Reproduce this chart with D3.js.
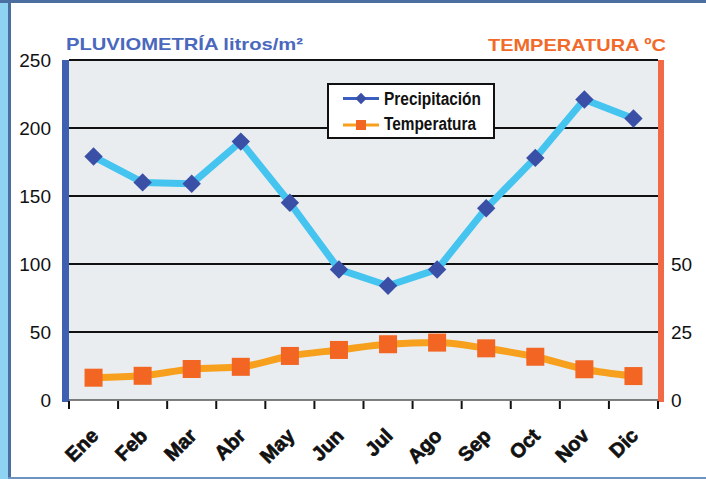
<!DOCTYPE html>
<html><head><meta charset="utf-8">
<script src="https://cdn.jsdelivr.net/npm/d3@7"></script>
<style>
html,body{margin:0;padding:0;background:#fff;}
svg{display:block;font-family:"Liberation Sans",Arial,sans-serif;}
</style></head>
<body>
<svg id="chart" width="706" height="479"></svg>
<script>
const months = ["Ene","Feb","Mar","Abr","May","Jun","Jul","Ago","Sep","Oct","Nov","Dic"];
const precipitation = [179,160,159,190,145,96,84,96,141,178,221,207];
const temperature = [8.2,8.9,11.4,12.2,16.2,18.4,20.5,21.1,19.0,15.9,11.3,8.8];
const leftTicks = [0,50,100,150,200,250];
const rightTicks = [0,25,50];

const svg = d3.select("#chart");
const W = 706, H = 479;
const m = {left:69, right:48, top:60, bottom:79};
const x0 = m.left, x1 = W - m.right, y0 = H - m.bottom, y1 = m.top;

// frame
svg.append("rect").attr("x",0).attr("y",0).attr("width",W).attr("height",H).attr("fill","#fff");
svg.append("rect").attr("x",0).attr("y",0).attr("width",9).attr("height",H).attr("fill","#8fd3f2");
svg.append("rect").attr("x",8).attr("y",0).attr("width",3).attr("height",H).attr("fill","#4a6fa0");
svg.append("rect").attr("x",0).attr("y",0).attr("width",W).attr("height",3).attr("fill","#4a6fa0");
svg.append("rect").attr("x",8).attr("y",H-2).attr("width",W).attr("height",2).attr("fill","#6b93c4");

const x = d3.scaleBand().domain(months).range([x0,x1]).padding(0);
const y = d3.scaleLinear().domain([0,250]).range([y0,y1]);
const yr = d3.scaleLinear().domain([0,125]).range([y0,y1]);

// plot bg
svg.append("rect").attr("x",x0).attr("y",y1).attr("width",x1-x0).attr("height",y0-y1).attr("fill","#e9edf0");

// gridlines
svg.append("g").selectAll("line").data(leftTicks.filter(d=>d>0)).join("line")
  .attr("x1",x0).attr("x2",x1).attr("y1",d=>y(d)).attr("y2",d=>y(d))
  .attr("stroke","#111").attr("stroke-width",2);
svg.append("line").attr("x1",x0).attr("x2",x1).attr("y1",y0).attr("y2",y0).attr("stroke","#555").attr("stroke-width",1.5);

// side bars
svg.append("rect").attr("x",x0-7).attr("y",y1).attr("width",7).attr("height",y0-y1+2).attr("fill","#3f5fb0");
svg.append("rect").attr("x",x1).attr("y",y1).attr("width",6).attr("height",y0-y1+2).attr("fill","#f26a45");

// x axis ticks
const xAxis = d3.axisBottom(x).tickSize(0).tickPadding(0);
const gx = svg.append("g").attr("transform",`translate(0,${y0})`).call(xAxis);
gx.select(".domain").remove();
gx.selectAll("text").remove();
const bounds = months.map(d=>x(d)).concat([x1]);
svg.append("g").selectAll("line").data(bounds).join("line")
  .attr("x1",d=>d).attr("x2",d=>d).attr("y1",y0+1).attr("y2",y0+9)
  .attr("stroke","#111").attr("stroke-width",2);
svg.append("g").selectAll("text").data(months).join("text")
  .attr("transform",d=>`translate(${x(d)+x.bandwidth()/2+6},${y0+37}) rotate(-45)`)
  .attr("text-anchor","end")
  .attr("font-size",20).attr("font-weight","bold").attr("fill","#111")
  .attr("stroke","#111").attr("stroke-width",0.7)
  .text(d=>d);

// left axis labels
const yAxis = d3.axisLeft(y).tickValues(leftTicks).tickSize(0).tickPadding(11);
const gy = svg.append("g").attr("transform",`translate(${x0-7},0)`).call(yAxis);
gy.select(".domain").remove();
gy.selectAll("text").attr("font-size",19).attr("fill","#111").attr("font-family","Liberation Sans, Arial, sans-serif");

// right axis labels
const yrAxis = d3.axisRight(yr).tickValues(rightTicks).tickSize(0).tickPadding(13);
const gyr = svg.append("g").attr("transform",`translate(${x1},0)`).call(yrAxis);
gyr.select(".domain").remove();
gyr.selectAll("text").attr("font-size",19).attr("fill","#111").attr("font-family","Liberation Sans, Arial, sans-serif");

// titles
svg.append("text").attr("x",66).attr("y",50).attr("font-size",17).attr("font-weight","bold")
  .attr("textLength",237).attr("lengthAdjust","spacingAndGlyphs")
  .attr("fill","#4a68bd").text("PLUVIOMETRÍA litros/m²");
svg.append("text").attr("x",488).attr("y",50.5).attr("font-size",17).attr("font-weight","bold")
  .attr("textLength",178).attr("lengthAdjust","spacingAndGlyphs")
  .attr("fill","#f26a2a").text("TEMPERATURA ºC");

const cx = d => x(d)+x.bandwidth()/2;

// temperature
svg.append("path").datum(temperature)
  .attr("d", d3.line().x((d,i)=>cx(months[i])).y(d=>yr(d)).curve(d3.curveMonotoneX))
  .attr("fill","none").attr("stroke","#f7a01e").attr("stroke-width",7);
svg.append("g").selectAll("rect").data(temperature).join("rect")
  .attr("x",(d,i)=>cx(months[i])-9).attr("y",d=>yr(d)-9).attr("width",18).attr("height",18)
  .attr("fill","#f26522");

// precipitation
svg.append("path").datum(precipitation)
  .attr("d", d3.line().x((d,i)=>cx(months[i])).y(d=>y(d)))
  .attr("fill","none").attr("stroke","#45c4f0").attr("stroke-width",7).attr("stroke-linejoin","round");
svg.append("g").selectAll("rect").data(precipitation).join("rect")
  .attr("x",-6.5).attr("y",-6.5).attr("width",13).attr("height",13)
  .attr("transform",(d,i)=>`translate(${cx(months[i])},${y(d)}) rotate(45)`)
  .attr("fill","#3a4fa6");

// legend
const lg = svg.append("g").attr("transform","translate(328,84)");
lg.append("rect").attr("width",166).attr("height",54).attr("fill","#fff").attr("stroke","#111").attr("stroke-width",2);
lg.append("line").attr("x1",15).attr("x2",51).attr("y1",14.5).attr("y2",14.5).attr("stroke","#3a5fc0").attr("stroke-width",3);
lg.append("rect").attr("x",-4).attr("y",-4).attr("width",8).attr("height",8).attr("transform","translate(33,14.5) rotate(45)").attr("fill","#3a4fa6");
lg.append("text").attr("x",56).attr("y",21).attr("font-size",18).attr("font-weight","bold").attr("fill","#111")
  .attr("textLength",97).attr("lengthAdjust","spacingAndGlyphs").text("Precipitación");
lg.append("line").attr("x1",15).attr("x2",51).attr("y1",41).attr("y2",41).attr("stroke","#f7a01e").attr("stroke-width",3);
lg.append("rect").attr("x",28).attr("y",36).attr("width",10).attr("height",10).attr("fill","#f26522");
lg.append("text").attr("x",56).attr("y",46).attr("font-size",18).attr("font-weight","bold").attr("fill","#111")
  .attr("textLength",92).attr("lengthAdjust","spacingAndGlyphs").text("Temperatura");
</script>
</body></html>
